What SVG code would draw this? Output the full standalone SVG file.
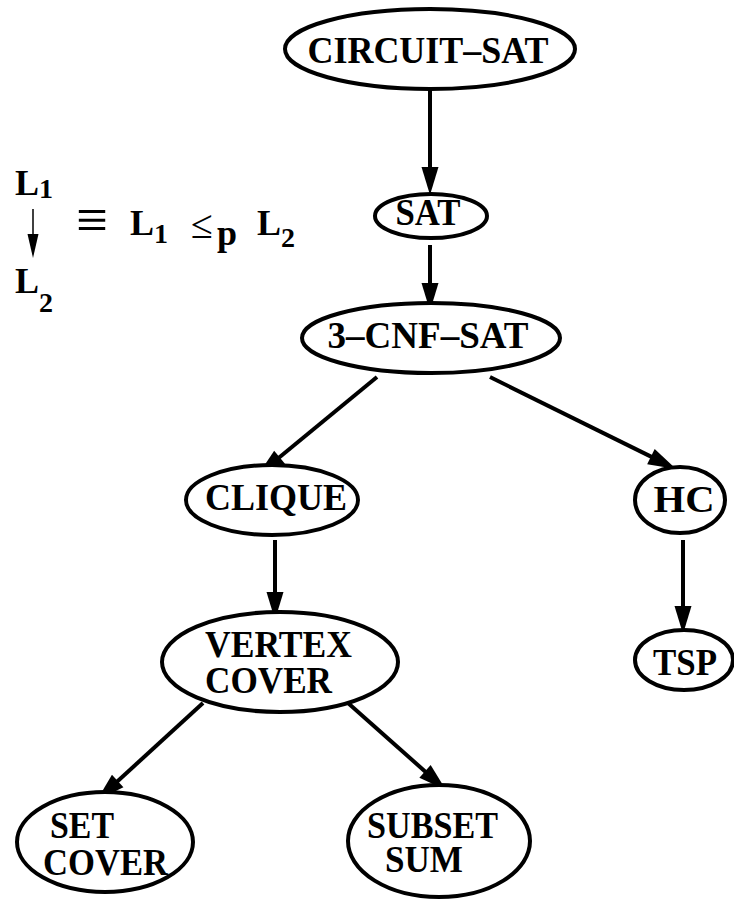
<svg xmlns="http://www.w3.org/2000/svg" width="734" height="903" viewBox="0 0 734 903">
  <style>
    .node { fill: #fff; stroke: #000; stroke-width: 4; }
    .lbl { font-family: "Liberation Serif", "Times New Roman", serif; font-weight: bold; font-size: 38px; fill: #000; }
    .mid { text-anchor: middle; }
    .edge { stroke: #000; stroke-width: 4; fill: none; marker-end: url(#ah); }
    .key { font-family: "Liberation Serif", "Times New Roman", serif; font-weight: bold; font-size: 36px; fill: #000; }
    .sym { font-family: "Liberation Serif", "Times New Roman", serif; font-weight: normal; fill: #000; }
  </style>
  <defs>
    <marker id="ah" markerUnits="userSpaceOnUse" markerWidth="30" markerHeight="18" viewBox="0 0 30 18" refX="9" refY="9" orient="auto">
      <path d="M1,0.5 L29,9 L1,17.5 Z" fill="#000"/>
    </marker>
    <marker id="ahs" markerUnits="userSpaceOnUse" markerWidth="24" markerHeight="12" viewBox="0 0 24 12" refX="8" refY="6" orient="auto">
      <path d="M0,0.5 L24,6 L0,11.5 Z" fill="#000"/>
    </marker>
  </defs>

  <rect width="734" height="903" fill="#fff"/>

  <!-- key: an arrow from L1 to L2 means L1 reduces to L2 in polynomial time -->
  <g id="legend">
    <text class="key" x="15" y="195">L<tspan font-size="28" dy="3">1</tspan></text>
    <line x1="33" y1="209" x2="33" y2="242" stroke="#000" stroke-width="1.5" marker-end="url(#ahs)"/>
    <text class="key" x="15" y="293">L<tspan font-size="28" dy="19">2</tspan></text>
    <text class="sym" x="76" y="240" font-size="60" textLength="32" lengthAdjust="spacingAndGlyphs">≡</text>
    <text class="key" x="130" y="235">L<tspan font-size="28" dy="8">1</tspan></text>
    <text class="sym" x="191" y="238" font-size="40">≤</text>
    <text class="key" x="217" y="245">p</text>
    <text class="key" x="257" y="235">L<tspan font-size="28" dy="12">2</tspan></text>
  </g>

  <g id="connectors">
    <line class="edge" x1="430" y1="90" x2="430" y2="175"/>
    <line class="edge" x1="430" y1="245" x2="430" y2="291"/>
    <line class="edge" x1="377" y1="377" x2="273.4" y2="462.3"/>
    <line class="edge" x1="490" y1="377" x2="658.1" y2="460.1"/>
    <line class="edge" x1="275" y1="540" x2="275" y2="600"/>
    <line class="edge" x1="683" y1="540" x2="683" y2="614"/>
    <line class="edge" x1="203" y1="703" x2="111.8" y2="786.5"/>
    <line class="edge" x1="348" y1="703" x2="431" y2="776.7"/>
  </g>

  <g id="circuit-sat">
    <ellipse class="node" cx="430" cy="49" rx="145" ry="40"/>
    <text class="lbl mid" x="428" y="63" font-size="42" textLength="241" lengthAdjust="spacingAndGlyphs">CIRCUIT–SAT</text>
  </g>
  <g id="sat">
    <ellipse class="node" cx="431" cy="216" rx="56" ry="22"/>
    <text class="lbl mid" x="428" y="225" font-size="36" textLength="65" lengthAdjust="spacingAndGlyphs">SAT</text>
  </g>
  <g id="3-cnf-sat">
    <ellipse class="node" cx="431" cy="338" rx="129" ry="35"/>
    <text class="lbl mid" x="428" y="348" textLength="201" lengthAdjust="spacingAndGlyphs">3–CNF–SAT</text>
  </g>
  <g id="clique">
    <ellipse class="node" cx="272" cy="500" rx="86" ry="35"/>
    <text class="lbl mid" x="276" y="510" textLength="142" lengthAdjust="spacingAndGlyphs">CLIQUE</text>
  </g>
  <g id="hc">
    <ellipse class="node" cx="680" cy="500" rx="45" ry="33"/>
    <text class="lbl mid" x="684" y="512" textLength="61" lengthAdjust="spacingAndGlyphs">HC</text>
  </g>
  <g id="tsp">
    <ellipse class="node" cx="684" cy="660" rx="49" ry="30"/>
    <text class="lbl mid" x="685" y="675" textLength="64" lengthAdjust="spacingAndGlyphs">TSP</text>
  </g>
  <g id="vertex-cover">
    <ellipse class="node" cx="280" cy="662" rx="118" ry="50"/>
    <text class="lbl" x="205" y="657" textLength="147" lengthAdjust="spacingAndGlyphs">VERTEX</text>
    <text class="lbl" x="205" y="693" textLength="127" lengthAdjust="spacingAndGlyphs">COVER</text>
  </g>
  <g id="set-cover">
    <ellipse class="node" cx="105" cy="842" rx="88" ry="50"/>
    <text class="lbl" x="50" y="838" textLength="64" lengthAdjust="spacingAndGlyphs">SET</text>
    <text class="lbl" x="43" y="875" textLength="125" lengthAdjust="spacingAndGlyphs">COVER</text>
  </g>
  <g id="subset-sum">
    <ellipse class="node" cx="439" cy="841" rx="91" ry="56"/>
    <text class="lbl" x="367" y="838" textLength="131" lengthAdjust="spacingAndGlyphs">SUBSET</text>
    <text class="lbl" x="385" y="872" textLength="78" lengthAdjust="spacingAndGlyphs">SUM</text>
  </g>
</svg>
